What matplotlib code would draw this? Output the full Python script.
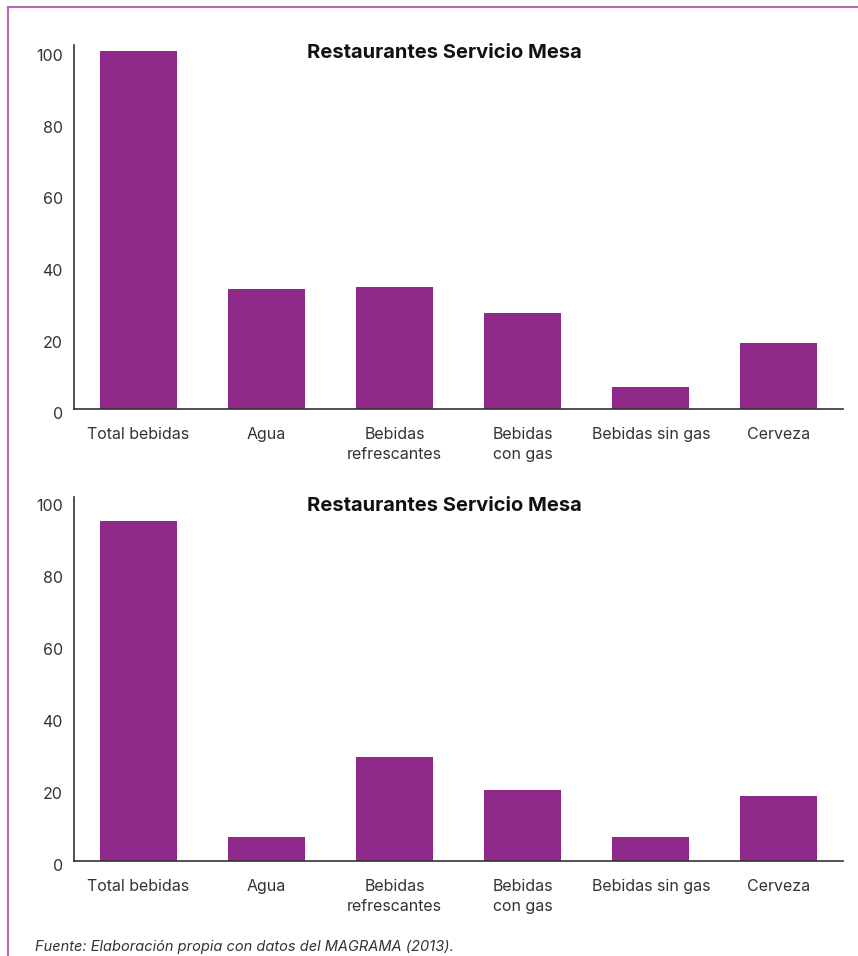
import numpy as np
import matplotlib
matplotlib.use("Agg")
import matplotlib.pyplot as plt
import matplotlib.transforms as mtransforms
from matplotlib.lines import Line2D

plt.rcParams['font.family'] = ['Inter', 'DejaVu Sans']

#%% DATA
categories = ["Total bebidas", "Agua", "Bebidas\nrefrescantes", "Bebidas\ncon gas",
              "Bebidas sin gas", "Cerveza"]
values_top = [100, 33.5, 34.0, 26.8, 6.1, 18.4]
values_bottom = [94.5, 6.7, 29.0, 19.8, 6.7, 18.1]
title = "Restaurantes Servicio Mesa"
yticks = [0, 20, 40, 60, 80, 100]
source = "Fuente: Elaboración propia con datos del MAGRAMA (2013)."

BAR = "#8f2a8a"
FRAME = "#b566b5"

#%% PLOT
fig = plt.figure(figsize=(8.58, 9.56), dpi=100)
W, H = 858, 956

def panel(bottom_px, top_px, vals, ymax):
    ax = fig.add_axes([74 / W, 1 - bottom_px / H, (843 - 74) / W, (bottom_px - top_px) / H])
    x = np.arange(len(categories))
    ax.bar(x, vals, width=0.6, color=BAR)
    ax.set_xlim(-0.5, len(categories) - 0.5)
    ax.set_ylim(0, ymax)
    ax.set_yticks(yticks)
    ax.set_xticks(x)
    ax.set_xticklabels(categories, fontsize=11.5, color="#333333", linespacing=1.45)
    ax.tick_params(axis="y", length=0, pad=8, labelsize=11.5, labelcolor="#333333")
    ax.tick_params(axis="x", length=0, pad=13)
    # y labels sit a little below their value in the original
    off = mtransforms.ScaledTranslation(0, -3 / 72, fig.dpi_scale_trans)
    for lab in ax.get_yticklabels():
        lab.set_transform(lab.get_transform() + off)
    for s in ["top", "right"]:
        ax.spines[s].set_visible(False)
    for s in ["left", "bottom"]:
        ax.spines[s].set_color("#333333")
        ax.spines[s].set_linewidth(1.2)
    return ax

ax1 = panel(409, 45, values_top, 101.7)
ax2 = panel(861, 497, values_bottom, 101.1)

fig.text(444 / W, 1 - 53 / H, title, ha="center", va="center",
         fontsize=14.5, fontweight="bold", color="#111111")
fig.text(444 / W, 1 - 506 / H, title, ha="center", va="center",
         fontsize=14.5, fontweight="bold", color="#111111")
fig.text(35 / W, 1 - 947 / H, source, ha="left", va="center",
         fontsize=10.5, style="italic", color="#333333")

# frame lines
fig.add_artist(Line2D([7.5 / W, 1], [1 - 7 / H, 1 - 7 / H], color=FRAME, lw=1.5,
                      transform=fig.transFigure))
fig.add_artist(Line2D([7.5 / W, 7.5 / W], [0, 1 - 7 / H], color=FRAME, lw=1.5,
                      transform=fig.transFigure))

fig.savefig("out.png", dpi=100)
